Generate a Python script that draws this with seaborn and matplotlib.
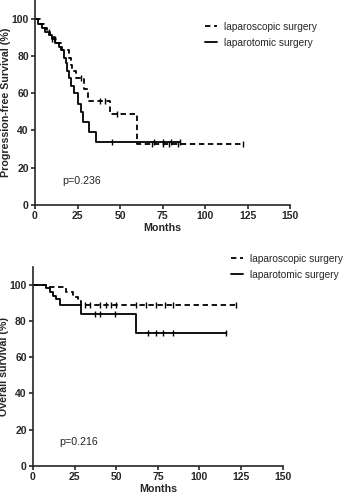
import numpy as np
import pandas as pd
import matplotlib
matplotlib.use("Agg")
import matplotlib.pyplot as plt
import seaborn as sns

# --------------------------------------------------------------
# Data
# --------------------------------------------------------------
groups = ["laparoscopic surgery", "laparotomic surgery"]

# progression-free survival
pfs_scopic_t = [0, 3, 5, 7, 9, 11, 13, 15, 20, 21, 22, 24, 29, 31, 44, 60, 122]
pfs_scopic_s = [100, 97, 95, 93, 91, 89, 87, 83, 79, 75, 72, 68, 62, 56, 49, 32.5, 32.5]
pfs_scopic_cens = [8, 12, 27, 38, 41, 48, 69, 75, 79, 84, 122]

pfs_tomic_t = [0, 2, 4, 6, 8, 10, 12, 14, 16, 17, 18, 19, 20, 21, 23, 25, 27, 28, 32, 36, 85]
pfs_tomic_s = [100, 97, 95, 93, 91, 89, 87, 85, 83, 79, 76, 72, 68, 64, 60, 54, 50, 44.5, 39, 33.5, 33.5]
pfs_tomic_cens = [10, 45, 70, 75, 80, 85]

# overall survival
os_scopic_t = [0, 8, 20, 24, 27, 29, 122]
os_scopic_s = [100, 98.5, 96, 93, 91, 89, 89]
os_scopic_cens = [31, 34, 40, 44, 47, 50, 62, 68, 74, 79, 84, 122]

os_tomic_t = [0, 8, 10, 12, 14, 16, 29, 62, 116]
os_tomic_s = [100, 98, 96, 94, 92, 89, 84, 73.5, 73.5]
os_tomic_cens = [37, 40, 49, 69, 74, 78, 84, 116]

p_values = ["p=0.236", "p=0.216"]
y_labels = ["Progression-free Survival (%)", "Overall survival (%)"]


def surv_at(t_list, s_list, times):
    t_arr = np.array(t_list)
    s_arr = np.array(s_list)
    idx = np.searchsorted(t_arr, times, side="right") - 1
    return s_arr[idx]


sns.set_style("ticks")
plt.rcParams["font.family"] = ["Liberation Sans", "DejaVu Sans"]

fig = plt.figure(figsize=(3.5, 4.96), dpi=100)
ax_top = fig.add_axes([0.100, 0.587, 0.729, 0.413])
ax_bot = fig.add_axes([0.094, 0.0605, 0.714, 0.402])

panels = [
    (ax_top, pfs_scopic_t, pfs_scopic_s, pfs_scopic_cens, pfs_tomic_t, pfs_tomic_s, pfs_tomic_cens),
    (ax_bot, os_scopic_t, os_scopic_s, os_scopic_cens, os_tomic_t, os_tomic_s, os_tomic_cens),
]
legend_pos = [(0.667, 0.895), (0.792, 1.065)]

for i, (ax, st, ss, sc, tt, ts, tc) in enumerate(panels):
    curves = [(groups[0], st, ss, sc, (0, (3, 2))), (groups[1], tt, ts, tc, "-")]
    for name, t, s, cens, ls in curves:
        df = pd.DataFrame({"Months": t, "Survival": s})
        sns.lineplot(
            data=df, x="Months", y="Survival", ax=ax, estimator=None,
            drawstyle="steps-post", color="black", linewidth=1.3,
            linestyle=ls, label=name,
        )
        cens_df = pd.DataFrame({"Months": cens, "Survival": surv_at(t, s, cens)})
        sns.scatterplot(
            data=cens_df, x="Months", y="Survival", ax=ax, marker="|",
            color="black", s=14, linewidth=1.0, legend=False,
        )

    ax.set_xlim(0, 150)
    ax.set_ylim(0, 110)
    ax.set_xticks(np.arange(0, 151, 25))
    ax.set_yticks(np.arange(0, 101, 20))
    sns.despine(ax=ax)
    for sp in ["left", "bottom"]:
        ax.spines[sp].set_linewidth(1.2)
    ax.tick_params(width=1.2, length=3, labelsize=7.5, pad=1.5)
    for lab in ax.get_xticklabels() + ax.get_yticklabels():
        lab.set_fontweight("bold")
    ax.set_xlabel("Months", fontsize=7.7, fontweight="bold", labelpad=1.5)
    ax.set_ylabel(y_labels[i], fontsize=7.7, fontweight="bold", labelpad=0.5)
    ax.text(16, 13, p_values[i], fontsize=7.7, va="center", ha="left")

    ax.legend(
        loc="upper left", bbox_to_anchor=legend_pos[i], frameon=False,
        fontsize=7.3, handlelength=1.2, handletextpad=0.7, labelspacing=0.6,
        borderaxespad=0, borderpad=0,
    )

fig.savefig("out.png", dpi=100)
